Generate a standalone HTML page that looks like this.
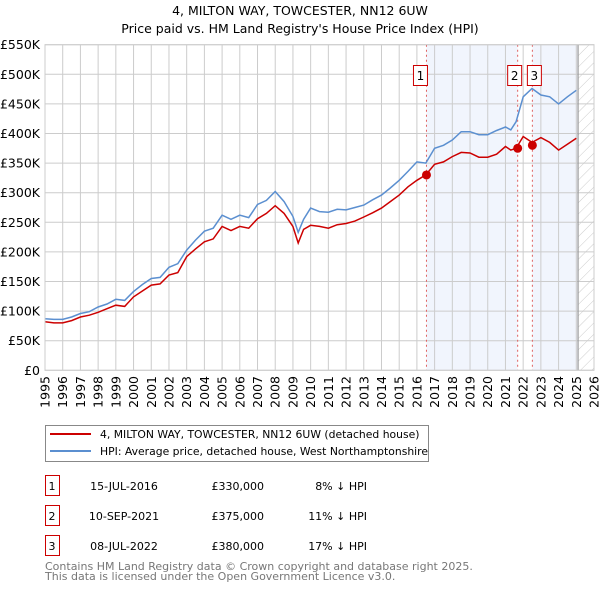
<!DOCTYPE html>
<html><head><meta charset="utf-8"><style>
body{margin:0;background:#fff;font-family:"Liberation Sans","DejaVu Sans",sans-serif;}
svg text{font-family:"DejaVu Sans","Liberation Sans",sans-serif;}
</style></head><body>
<svg id="chart" width="600" height="590" xmlns="http://www.w3.org/2000/svg">
<defs><pattern id="hatch" width="8" height="8" patternUnits="userSpaceOnUse" patternTransform="rotate(45)"><line x1="0" y1="0" x2="0" y2="8" stroke="#ccc" stroke-width="1"/></pattern></defs>
<text x="300" y="15" text-anchor="middle" font-size="12.5">4, MILTON WAY, TOWCESTER, NN12 6UW</text>
<text x="300" y="33" text-anchor="middle" font-size="12.5">Price paid vs. HM Land Registry's House Price Index (HPI)</text>
<g id="plot"></g>
<g>
<rect x="45.5" y="425.5" width="383" height="36" fill="#fff" stroke="#888"/>
<line x1="50" y1="434" x2="91" y2="434" stroke="#cc0000" stroke-width="2"/>
<text x="100" y="438" font-size="10.8">4, MILTON WAY, TOWCESTER, NN12 6UW (detached house)</text>
<line x1="50" y1="451" x2="91" y2="451" stroke="#5b8fd0" stroke-width="2"/>
<text x="100" y="455" font-size="10.8">HPI: Average price, detached house, West Northamptonshire</text>
</g>
<g id="table" font-size="11"></g>
<text x="45" y="570" font-size="11" fill="#777">Contains HM Land Registry data © Crown copyright and database right 2025.</text>
<text x="45" y="580" font-size="11" fill="#777">This data is licensed under the Open Government Licence v3.0.</text>
</svg>
<script>
const years=[1995,1995.5,1996,1996.5,1997,1997.5,1998,1998.5,1999,1999.5,2000,2000.5,2001,2001.5,2002,2002.5,2003,2003.5,2004,2004.5,2005,2005.5,2006,2006.5,2007,2007.5,2008,2008.5,2009,2009.3,2009.6,2010,2010.5,2011,2011.5,2012,2012.5,2013,2013.5,2014,2014.5,2015,2015.5,2016,2016.5,2017,2017.5,2018,2018.5,2019,2019.5,2020,2020.5,2021,2021.3,2021.6,2022,2022.5,2023,2023.5,2024,2024.5,2025];
const hpi=[87,86,86,90,96,99,107,112,120,118,133,145,155,157,174,180,203,220,235,240,262,255,262,258,280,287,302,285,260,233,255,274,268,267,272,271,275,279,288,296,308,321,336,352,350,375,380,389,403,403,398,398,405,411,406,420,462,476,465,462,450,462,473];
const red=[82,80,80,84,90,93,98,104,110,108,124,134,144,146,161,165,192,205,217,222,243,236,243,240,256,265,278,265,243,215,238,245,243,240,246,248,252,259,266,274,285,296,310,321,330,348,352,361,368,367,360,360,365,378,372,375,395,385,393,385,372,382,392];
const saleLabels=["1","2","3"];
const saleYears=[2016.54,2021.69,2022.52];
const salePrices=[330,375,380];
const saleDates=["15-JUL-2016","10-SEP-2021","08-JUL-2022"];
const salePriceText=["£330,000","£375,000","£380,000"];
const saleDiffs=["8% ↓ HPI","11% ↓ HPI","17% ↓ HPI"];
const yTicks=[0,50,100,150,200,250,300,350,400,450,500,550];
const yTickLabels=["£0","£50K","£100K","£150K","£200K","£250K","£300K","£350K","£400K","£450K","£500K","£550K"];
const xTicks=[1995,1996,1997,1998,1999,2000,2001,2002,2003,2004,2005,2006,2007,2008,2009,2010,2011,2012,2013,2014,2015,2016,2017,2018,2019,2020,2021,2022,2023,2024,2025,2026];
const X0=45,X1=594,Y0=370.3,Y1=44.7;
const xs=y=>X0+(y-1995)/(2026-1995)*(X1-X0);
const ys=v=>Y0-v/550*(Y0-Y1);
const NS="http://www.w3.org/2000/svg";
function mk(tag,attrs,parent){const e=document.createElementNS(NS,tag);for(const k in attrs)e.setAttribute(k,attrs[k]);parent.appendChild(e);return e;}
const plot=document.getElementById('plot');
let r=mk('rect',{x:xs(saleYears[0]),y:Y1,width:xs(saleYears[1])-xs(saleYears[0]),height:Y0-Y1,fill:'#eef3fc',opacity:0.8},plot);


r=mk('rect',{x:xs(saleYears[2]),y:Y1,width:xs(2025.1)-xs(saleYears[2]),height:Y0-Y1,fill:'#eef3fc',opacity:0.8},plot);


r=mk('rect',{x:xs(2025.1),y:Y1,width:X1-xs(2025.1),height:Y0-Y1,fill:'url(#hatch)'},plot);


yTicks.forEach((v,i)=>{
 mk('line',{x1:X0,x2:X1,y1:ys(v),y2:ys(v),stroke:'#ccc','stroke-width':1},plot);
 const t=mk('text',{x:40,y:ys(v)+4.5,'text-anchor':'end','font-size':12.5},plot);
 t.textContent=yTickLabels[i];
 
 
});
xTicks.forEach(yr=>{
 mk('line',{x1:xs(yr),x2:xs(yr),y1:Y1,y2:Y0,stroke:'#ccc','stroke-width':1},plot);
 const t=mk('text',{x:0,y:0,'font-size':12.5,'text-anchor':'end',transform:`translate(${xs(yr)+4.5},376) rotate(-90)`},plot);
 t.textContent=yr;
 
 
});
mk('line',{x1:xs(2025.1),x2:xs(2025.1),y1:Y1,y2:Y0,stroke:'#999','stroke-width':1.2},plot);
saleYears.forEach(sy=>{
 const l=mk('line',{x1:xs(sy),x2:xs(sy),y1:Y1,y2:Y0,stroke:'#e06060','stroke-width':1,'stroke-dasharray':'2,3'},plot);
 
 
});
function path(arr){return arr.map((v,i)=>(i?'L':'M')+xs(years[i]).toFixed(1)+','+ys(v).toFixed(1)).join('');}
let p=mk('path',{d:path(hpi),fill:'none',stroke:'#5b8fd0','stroke-width':1.5},plot);


p=mk('path',{d:path(red),fill:'none',stroke:'#cc0000','stroke-width':1.5},plot);


saleYears.forEach((sy,i)=>{
 const c=mk('circle',{cx:xs(sy),cy:ys(salePrices[i]),r:4.5,fill:'#cc0000'},plot);
 
 
 const bx=i==0?xs(sy)-13:(i==1?xs(sy)-10:xs(sy)-5);
 const b=mk('rect',{x:bx,y:65.5,width:14,height:20,fill:'#fff',stroke:'#cc0000'},plot);
 
 
 const t=mk('text',{x:bx+7,y:80,'text-anchor':'middle','font-size':12},plot);
 t.textContent=saleLabels[i];
 
 
});
mk('rect',{x:X0,y:Y1,width:X1-X0,height:Y0-Y1,fill:'none',stroke:'#ccc'},plot);
const tb=document.getElementById('table');
saleLabels.forEach((s,i)=>{
 const y=493+i*30;
 const b=mk('rect',{x:45.5,y:y-17.5,width:14,height:20,fill:'#fff',stroke:'#cc0000'},tb);
 
 
 const vals=[[s,52,'middle'],[saleDates[i],124,'middle'],[salePriceText[i],264,'end'],[saleDiffs[i],367,'end']];
 vals.forEach(v=>{const t=mk('text',{x:v[1],y:y-3,'text-anchor':v[2]},tb);t.textContent=v[0];
 
 });
});
</script>
</body></html>
